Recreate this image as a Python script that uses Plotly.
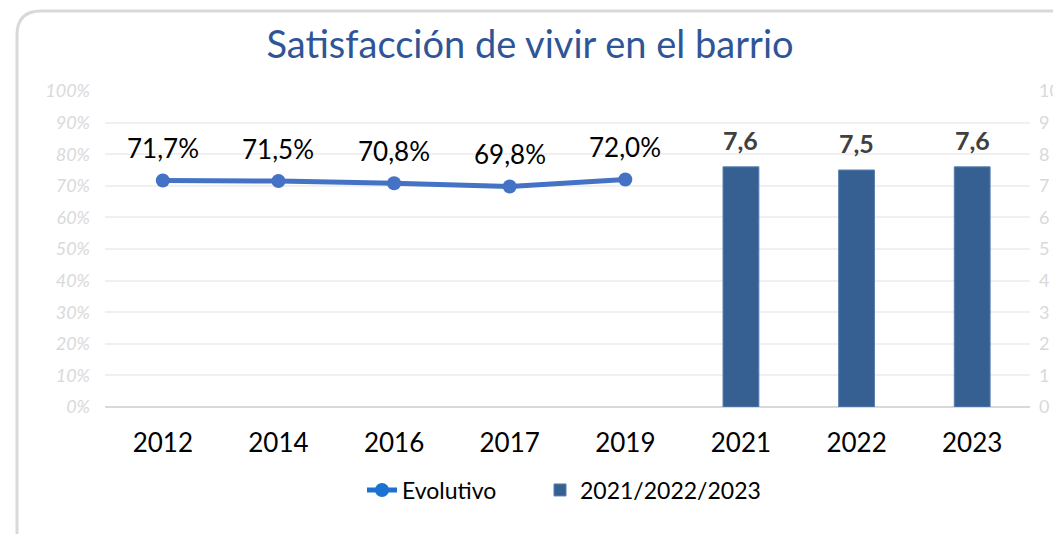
import plotly.graph_objects as go

categories = ["2012", "2014", "2016", "2017", "2019", "2021", "2022", "2023"]
line_years = ["2012", "2014", "2016", "2017", "2019"]
line_values = [71.7, 71.5, 70.8, 69.8, 72.0]
bar_years = ["2021", "2022", "2023"]
bar_values = [7.6, 7.5, 7.6]
left_ticks = [0, 10, 20, 30, 40, 50, 60, 70, 80, 90, 100]
right_ticks = [0, 1, 2, 3, 4, 5, 6, 7, 8, 9, 10]

OFF = 8  # browser body margin
PAGE_W, PAGE_H = 1061, 534
W, H = PAGE_W - OFF, PAGE_H - OFF
PL, PR, PT, PB = 105, 1030, 91, 407   # plot area in page pixels
L, R, T, B = PL - OFF, PAGE_W - PR, PT - OFF, PAGE_H - PB
PW, PH = PR - PL, PB - PT

def px(x):
    return (x - PL) / PW

def py(y):
    return (PB - y) / PH

FONT = "Lato"

fig = go.Figure()

fig.add_trace(go.Scatter(
    x=line_years, y=[v / 100 for v in line_values], mode="lines+markers",
    line=dict(color="#4472C4", width=5), marker=dict(size=14, color="#4472C4"),
    name="Evolutivo", showlegend=False, yaxis="y", cliponaxis=False))
fig.add_trace(go.Scatter(
    x=[None], y=[None], mode="lines+markers",
    line=dict(color="#1C72CF", width=5), marker=dict(size=14, color="#1C72CF"),
    name="Evolutivo", yaxis="y", legend="legend"))
fig.add_trace(go.Bar(
    x=bar_years, y=bar_values, name="2021/2022/2023", width=0.31,
    marker=dict(color="#366092", line=dict(color="#5A7FAF", width=1)), yaxis="y2",
    legend="legend2"))

annotations = []
for xv, v in zip(line_years, line_values):
    annotations.append(dict(
        x=categories.index(xv), y=v / 100, xref="x", yref="y", yshift=32, showarrow=False,
        text=f"{v:.1f}".replace(".", ",") + "%",
        font=dict(family=FONT, size=26, color="#000000")))
for xv, v in zip(bar_years, bar_values):
    annotations.append(dict(
        x=categories.index(xv), y=v, xref="x", yref="y2", yshift=27, showarrow=False,
        text="<b>" + f"{v:.1f}".replace(".", ",") + "</b>",
        font=dict(family=FONT, size=25, color="#404040")))

# rounded border (page pixel coords)
x0, y0, x1, y1, r = 17, 11, 1090, 570, 24
path = (f"M {px(x0)},{py(y0 + r)} Q {px(x0)},{py(y0)} {px(x0 + r)},{py(y0)} "
        f"L {px(x1 - r)},{py(y0)} Q {px(x1)},{py(y0)} {px(x1)},{py(y0 + r)} "
        f"L {px(x1)},{py(y1 - r)} Q {px(x1)},{py(y1)} {px(x1 - r)},{py(y1)} "
        f"L {px(x0 + r)},{py(y1)} Q {px(x0)},{py(y1)} {px(x0)},{py(y1 - r)} Z")

legend_common = dict(orientation="h", xanchor="left", y=py(490), yanchor="middle",
                     font=dict(family=FONT, size=23, color="#000000"),
                     bgcolor="rgba(0,0,0,0)")

fig.update_layout(
    width=W, height=H,
    margin=dict(l=L, r=R, t=T, b=B, autoexpand=False),
    paper_bgcolor="white", plot_bgcolor="white",
    title=dict(text="Satisfacción de vivir en el barrio", x=(530 - OFF) / W, xref="container",
               xanchor="center", y=1 - (45 - OFF) / H, yanchor="middle",
               font=dict(family=FONT, size=38, color="#2F5597")),
    xaxis=dict(type="category", categoryorder="array", categoryarray=categories,
               range=[-0.5, 7.5], showgrid=False, showline=False, zeroline=False,
               ticks="", ticklabelstandoff=18,
               tickfont=dict(family=FONT, size=26, color="#000000")),
    yaxis=dict(range=[0, 1], tickvals=[t / 100 for t in left_ticks],
               ticktext=[f"<i>{t}%</i>" for t in left_ticks],
               showgrid=True, gridcolor="#F0F0F0", gridwidth=1.5,
               zeroline=True, zerolinecolor="#D9D9D9", zerolinewidth=2,
               ticks="", ticklabelstandoff=14, showline=False,
               tickfont=dict(family=FONT, size=18, color="#D9D9D9")),
    yaxis2=dict(range=[0, 10], tickvals=right_ticks, overlaying="y", side="right",
                showgrid=False, zeroline=False, ticks="", ticklabelstandoff=8,
                tickfont=dict(family=FONT, size=18, color="#D9D9D9")),
    legend=dict(x=px(362), **legend_common),
    legend2=dict(x=px(540), **legend_common),
    annotations=annotations,
    shapes=[dict(type="path", path=path, xref="paper", yref="paper",
                 line=dict(color="#D9D9D9", width=3), layer="below")],
    showlegend=True,
)

fig.write_html("out.html")
